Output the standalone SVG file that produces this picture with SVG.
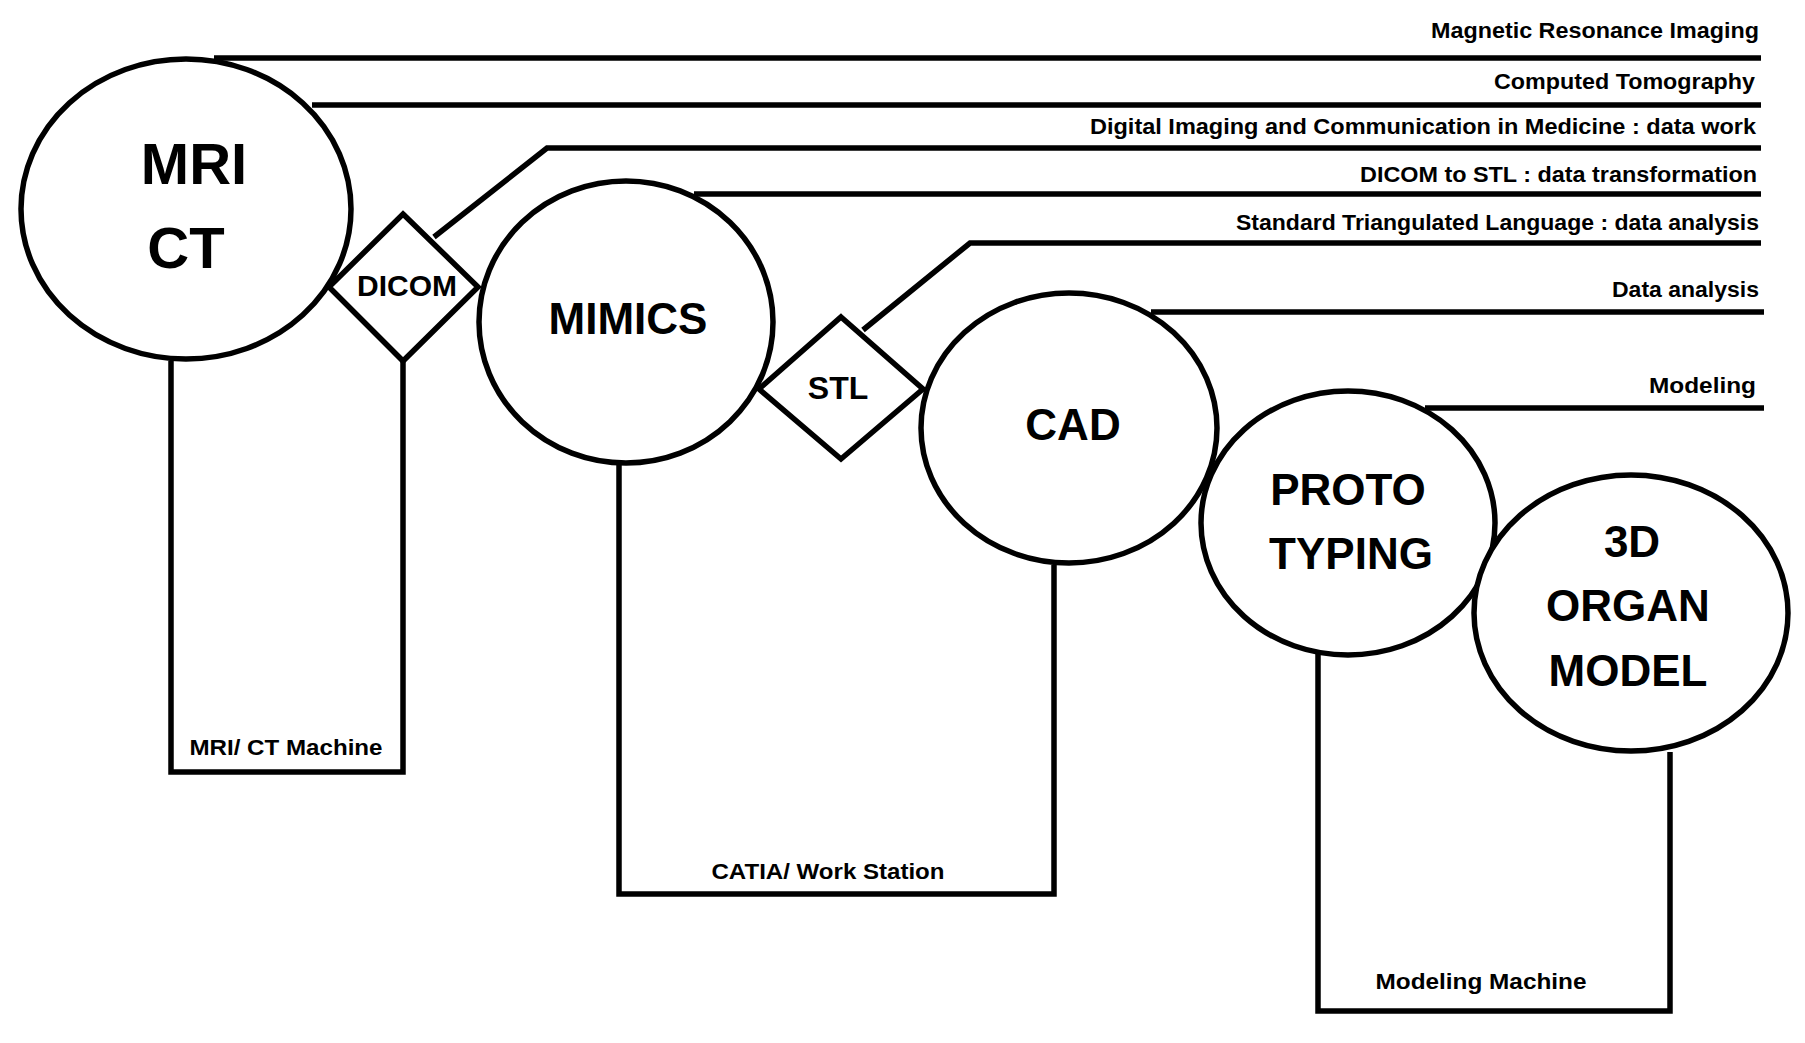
<svg xmlns="http://www.w3.org/2000/svg" width="1805" height="1043" viewBox="0 0 1805 1043">
<style>
.s{fill:none;stroke:#000;stroke-width:5.5}
.n{fill:#fff;stroke:#000;stroke-width:5.5}
text{font-family:"Liberation Sans",Arial,sans-serif;font-weight:bold;fill:#000}
.b{text-anchor:middle}
.l{text-anchor:end;font-size:22px}
.m{text-anchor:middle;font-size:22px}
</style>
<rect width="1805" height="1043" fill="#fff"/>
<g id="connectors">
<path class="s" d="M214 58H1761M312 105H1761M434 237L547 148H1761M694 194H1761M863 330L970 243H1761M1151 312H1764M1425 408H1764"/>
<path class="s" d="M171 361V772H403V361M619 463V894H1054V565M1318 654V1011H1670V752"/>
</g>
<g id="labels">
<text class="l" x="1759" y="38" textLength="328" lengthAdjust="spacingAndGlyphs">Magnetic Resonance Imaging</text>
<text class="l" x="1755" y="89" textLength="261" lengthAdjust="spacingAndGlyphs">Computed Tomography</text>
<text class="l" x="1756" y="134" textLength="666" lengthAdjust="spacingAndGlyphs">Digital Imaging and Communication in Medicine : data work</text>
<text class="l" x="1757" y="182" textLength="397" lengthAdjust="spacingAndGlyphs">DICOM to STL : data transformation</text>
<text class="l" x="1759" y="230" textLength="523" lengthAdjust="spacingAndGlyphs">Standard Triangulated Language : data analysis</text>
<text class="l" x="1759" y="297" textLength="147" lengthAdjust="spacingAndGlyphs">Data analysis</text>
<text class="l" x="1756" y="393" textLength="107" lengthAdjust="spacingAndGlyphs">Modeling</text>
<text class="m" x="286" y="755" textLength="193" lengthAdjust="spacingAndGlyphs">MRI/ CT Machine</text>
<text class="m" x="828" y="879" textLength="233" lengthAdjust="spacingAndGlyphs">CATIA/ Work Station</text>
<text class="m" x="1481" y="989" textLength="211" lengthAdjust="spacingAndGlyphs">Modeling Machine</text>
</g>
<g id="mri-ct"><ellipse class="n" cx="186" cy="209" rx="165" ry="150"/>
<text class="b" x="194" y="184" font-size="58">MRI</text><text class="b" x="186" y="268" font-size="58">CT</text></g>
<g id="dicom"><polygon class="n" points="403,214 478,287 403,361 329,287"/>
<text class="b" x="407" y="296" font-size="30">DICOM</text></g>
<g id="mimics"><ellipse class="n" cx="626" cy="322" rx="147" ry="141"/>
<text class="b" x="628" y="334" font-size="44">MIMICS</text></g>
<g id="stl"><polygon class="n" points="841,317 923,389 841,459 759,389"/>
<text class="b" x="838" y="399" font-size="32">STL</text></g>
<g id="cad"><ellipse class="n" cx="1069" cy="428" rx="148" ry="135"/>
<text class="b" x="1073" y="440" font-size="44">CAD</text></g>
<g id="prototyping"><ellipse class="n" cx="1348" cy="523" rx="147" ry="132"/>
<text class="b" x="1348" y="505" font-size="44">PROTO</text><text class="b" x="1351" y="569" font-size="44">TYPING</text></g>
<g id="organ-model"><ellipse class="n" cx="1631" cy="613" rx="157" ry="138"/>
<text class="b" x="1632" y="557" font-size="44">3D</text><text class="b" x="1628" y="621" font-size="44">ORGAN</text><text class="b" x="1628" y="686" font-size="44">MODEL</text></g>
</svg>
